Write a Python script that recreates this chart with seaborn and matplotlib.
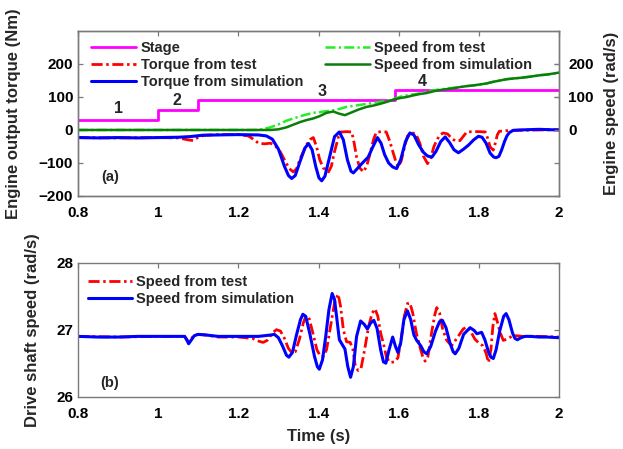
import matplotlib
matplotlib.use("Agg")
import matplotlib.pyplot as plt
import seaborn as sns

# ---------------- data ----------------
# (a) engine output torque (Nm) and engine speed (rad/s)
stage_t = [0.80, 1.00, 1.10, 1.59, 2.00]
stage_v = [30, 60, 90, 120, 120]
stage_labels = ["1", "2", "3", "4"]
stage_label_t = [0.902, 1.047, 1.409, 1.658]
stage_label_v = [66, 90, 117, 147]

torque_test_t = [0.80, 0.90, 1.00, 1.05, 1.075, 1.087, 1.10, 1.115, 1.15, 1.20, 1.225, 1.24,
                 1.25, 1.265, 1.28, 1.29, 1.305, 1.32, 1.33, 1.337, 1.345, 1.355, 1.37, 1.38,
                 1.387, 1.395, 1.403, 1.412, 1.425, 1.432, 1.44, 1.45, 1.457, 1.47, 1.483, 1.489,
                 1.495, 1.503, 1.512, 1.52, 1.529, 1.537, 1.544, 1.556, 1.569, 1.578, 1.587, 1.594,
                 1.599, 1.606, 1.615, 1.622, 1.632, 1.643, 1.653, 1.662, 1.672, 1.68, 1.688, 1.695,
                 1.703, 1.711, 1.722, 1.732, 1.741, 1.753, 1.762, 1.77, 1.785, 1.80, 1.816, 1.822,
                 1.828, 1.836, 1.841, 1.846, 1.851, 1.87, 1.90, 1.95, 2.00]
torque_test_v = [-23, -24, -23, -24, -30, -32, -22, -16, -14, -14, -18, -30,
                 -40, -42, -40, -45, -67, -102, -120, -127, -118, -85, -45, -28,
                 -23, -50, -90, -115, -127, -110, -65, -20, -6, -5, -6, -40,
                 -82, -115, -127, -110, -70, -30, -7, -5, -6, -35, -72, -100,
                 -112, -95, -50, -18, -8, -12, -41, -80, -102, -85, -50, -31,
                 -15, -9, -12, -25, -33, -32, -18, -6, -5, -5, -6, -25,
                 -51, -61, -40, -15, -4, -2, -1, 0, 1]

torque_sim_t = [0.80, 0.85, 0.90, 0.95, 1.00, 1.05, 1.08, 1.11, 1.15, 1.20, 1.25, 1.27,
                1.285, 1.30, 1.315, 1.325, 1.333, 1.342, 1.354, 1.366, 1.375, 1.384, 1.393,
                1.401, 1.408, 1.416, 1.428, 1.44, 1.452, 1.462, 1.472, 1.481, 1.487, 1.496,
                1.508, 1.524, 1.536, 1.547, 1.556, 1.565, 1.575, 1.585, 1.595, 1.605, 1.617,
                1.628, 1.638, 1.65, 1.662, 1.672, 1.683, 1.693, 1.705, 1.716, 1.727, 1.738,
                1.749, 1.762, 1.774, 1.787, 1.799, 1.808, 1.818, 1.828, 1.837, 1.843, 1.85,
                1.857, 1.864, 1.87, 1.876, 1.886, 1.90, 1.95, 2.00]
torque_sim_v = [-23, -24, -23, -24, -23, -22, -20, -16, -15, -14, -15, -18,
                -28, -58, -110, -138, -147, -138, -95, -55, -41, -60, -110,
                -145, -154, -140, -80, -20, -6, -30, -90, -125, -130, -118,
                -102, -82, -50, -23, -40, -75, -100, -112, -117, -90, -35,
                -9, -15, -45, -68, -79, -82, -65, -35, -21, -38, -60,
                -69, -58, -46, -30, -19, -22, -40, -70, -82, -84, -80,
                -60, -35, -18, -8, -1, 0, 2, 0]

speed_test_t = [0.80, 1.00, 1.20, 1.24, 1.26, 1.28, 1.30, 1.32, 1.337, 1.355, 1.37, 1.387,
                1.403, 1.42, 1.437, 1.453, 1.47, 1.487, 1.503, 1.52, 1.537, 1.553, 1.57, 1.59,
                1.605, 1.62, 1.637, 1.653, 1.67, 1.686, 1.703, 1.72, 1.736, 1.753, 1.77, 1.786,
                1.803, 1.819, 1.836, 1.853, 1.87, 1.886, 1.903, 1.92, 1.936, 1.953, 1.97, 1.986,
                2.00]
speed_test_v = [0, 0, 0, 0, 2, 8, 17, 28, 35, 42, 47, 52,
                54, 57, 60, 64, 70, 73, 76, 79, 82, 85, 88, 95,
                101, 105, 108, 111, 116, 120, 123, 125, 128, 130, 133, 135,
                138, 141, 146, 150, 154, 156, 158, 161, 163, 166, 168, 171,
                173]

speed_sim_t = [0.80, 1.00, 1.20, 1.28, 1.30, 1.32, 1.337, 1.354, 1.37, 1.387, 1.403, 1.42,
               1.437, 1.45, 1.466, 1.48, 1.50, 1.52, 1.537, 1.553, 1.57, 1.59, 1.605, 1.62,
               1.637, 1.653, 1.67, 1.686, 1.703, 1.72, 1.736, 1.753, 1.77, 1.786, 1.803, 1.819,
               1.836, 1.853, 1.87, 1.886, 1.903, 1.92, 1.936, 1.953, 1.97, 1.986, 2.00]
speed_sim_v = [0, 0, 0, 0, 2, 8, 16, 24, 30, 35, 42, 52,
               56, 50, 45, 52, 62, 70, 74, 79, 85, 93, 97, 100,
               105, 109, 112, 117, 121, 124, 126, 130, 133, 135, 138, 141,
               146, 150, 154, 156, 158, 160, 163, 166, 168, 171, 174]

# (b) drive shaft speed (rad/s)
shaft_test_t = [0.80, 0.90, 1.00, 1.066, 1.072, 1.076, 1.082, 1.09, 1.10, 1.12, 1.15, 1.20,
                1.235, 1.25, 1.262, 1.272, 1.285, 1.295, 1.305, 1.315, 1.325, 1.333, 1.342,
                1.352, 1.362, 1.369, 1.376, 1.386, 1.396, 1.405, 1.412, 1.42, 1.43, 1.44, 1.449,
                1.455, 1.462, 1.47, 1.479, 1.486, 1.492, 1.499, 1.506, 1.515, 1.525, 1.534,
                1.541, 1.548, 1.555, 1.562, 1.57, 1.578, 1.59, 1.598, 1.606, 1.614, 1.622,
                1.628, 1.635, 1.644, 1.653, 1.66, 1.666, 1.673, 1.682, 1.69, 1.695, 1.702,
                1.71, 1.72, 1.732, 1.745, 1.761, 1.77, 1.78, 1.79, 1.80, 1.81, 1.818, 1.824,
                1.83, 1.835, 1.84, 1.846, 1.853, 1.861, 1.87, 1.882, 1.894, 1.91, 1.95, 2.00]
shaft_test_v = [26.90, 26.89, 26.90, 26.90, 26.85, 26.81, 26.86, 26.92, 26.93, 26.92, 26.89, 26.89,
                26.87, 26.83, 26.81, 26.84, 26.95, 27.00, 26.98, 26.87, 26.72, 26.66, 26.67,
                26.85, 27.10, 27.21, 27.18, 26.95, 26.70, 26.60, 26.60, 26.70, 27.05, 27.40, 27.53,
                27.35, 27.00, 26.82, 26.81, 26.70, 26.45, 26.39, 26.42, 26.70, 27.05, 27.25,
                27.31, 27.20, 26.95, 26.79, 26.58, 26.51, 26.52, 26.58, 26.85, 27.20, 27.39,
                27.40, 27.25, 26.95, 26.74, 26.60, 26.53, 26.60, 26.95, 27.22, 27.33, 27.25,
                27.00, 26.84, 26.76, 26.87, 27.01, 27.04, 26.97, 26.86, 26.80, 26.76, 26.65, 26.51,
                26.70, 27.05, 27.24, 27.12, 26.96, 26.84, 26.86, 26.90, 26.91, 26.90, 26.90, 26.89]

shaft_sim_t = [0.80, 0.85, 0.90, 0.95, 1.00, 1.05, 1.066, 1.072, 1.076, 1.082, 1.09, 1.10,
               1.12, 1.15, 1.20, 1.25, 1.28, 1.29, 1.30, 1.31, 1.32, 1.326, 1.335, 1.345,
               1.355, 1.361, 1.368, 1.378, 1.39, 1.397, 1.402, 1.41, 1.418, 1.426, 1.434, 1.44,
               1.447, 1.452, 1.458, 1.466, 1.473, 1.48, 1.487, 1.495, 1.505, 1.514, 1.522,
               1.53, 1.538, 1.546, 1.555, 1.562, 1.568, 1.576, 1.585, 1.592, 1.598, 1.605,
               1.613, 1.622, 1.63, 1.638, 1.645, 1.655, 1.663, 1.67, 1.68, 1.692, 1.702,
               1.709, 1.718, 1.728, 1.736, 1.741, 1.75, 1.762, 1.778, 1.788, 1.795, 1.801,
               1.807, 1.815, 1.824, 1.83, 1.836, 1.843, 1.852, 1.862, 1.868, 1.875, 1.884,
               1.89, 1.896, 1.905, 1.915, 1.93, 1.95, 1.97, 2.00]
shaft_sim_v = [26.90, 26.89, 26.89, 26.90, 26.90, 26.90, 26.90, 26.84, 26.79, 26.84, 26.91, 26.93,
               26.92, 26.90, 26.90, 26.90, 26.92, 26.93, 26.88, 26.76, 26.62, 26.59, 26.66, 26.92,
               27.15, 27.23, 27.20, 26.95, 26.60, 26.45, 26.41, 26.55, 26.90, 27.30, 27.54, 27.45,
               27.10, 26.85, 26.79, 26.71, 26.45, 26.29, 26.45, 26.90, 27.13, 27.08, 27.01,
               27.10, 27.14, 27.02, 26.70, 26.52, 26.50, 26.70, 26.89, 26.75, 26.66, 26.80,
               27.15, 27.28, 27.15, 26.92, 26.84, 26.76, 26.67, 26.64, 26.75, 26.98, 27.12,
               27.14, 27.03, 26.80, 26.67, 26.64, 26.72, 26.93, 27.03, 26.99, 26.94, 26.95,
               26.96, 26.85, 26.67, 26.59, 26.57, 26.70, 26.98, 27.20, 27.24, 27.15, 26.95,
               26.87, 26.85, 26.88, 26.90, 26.90, 26.89, 26.89, 26.88]

# ---------------- style ----------------
sns.set_theme(style="white")
plt.rcParams["font.family"] = ["Liberation Sans", "DejaVu Sans"]
plt.rcParams["font.weight"] = "bold"
plt.rcParams["axes.labelweight"] = "bold"

FRAME = "#7a7a7a"
RED = "#ff0000"
BLUE = "#0000ff"
MAGENTA = "#ff00ff"
LIGHT_GREEN = "#22ee22"
DARK_GREEN = "#0a7d0a"
DASHDOT = (4.0, 1.3, 0.9, 1.3)
TICK_FS = 11

fig = plt.figure(figsize=(6.23, 4.49), dpi=100)
ax_a = fig.add_axes([0.1252, 0.5635, 0.7721, 0.3675])
ax_b = fig.add_axes([0.1252, 0.1165, 0.7721, 0.2985])


def style_axes(ax, right=True):
    for sp in ax.spines.values():
        sp.set_color(FRAME)
        sp.set_linewidth(1.0)
        sp.set_visible(True)
    ax.tick_params(axis="both", which="both", direction="in", length=3.5, width=0.9,
                   color=FRAME, top=True, right=right, labelsize=TICK_FS,
                   labelcolor="black")
    ax.tick_params(axis="x", pad=7.5)
    ax.tick_params(axis="y", pad=3.5)
    for lbl in ax.get_xticklabels() + ax.get_yticklabels():
        lbl.set_fontweight("bold")


# ---------------- (a) ----------------
ax_s = ax_a.twinx()

sns.lineplot(x=stage_t, y=stage_v, ax=ax_a, color=MAGENTA, lw=2.0, estimator=None,
             drawstyle="steps-post", label="Stage", legend=False)
ln_tt = sns.lineplot(x=torque_test_t, y=torque_test_v, ax=ax_a, color=RED, lw=2.0,
                     estimator=None, label="Torque from test", legend=False).get_lines()[-1]
ln_tt.set_dashes(DASHDOT)
sns.lineplot(x=torque_sim_t, y=torque_sim_v, ax=ax_a, color=BLUE, lw=2.2, estimator=None,
             label="Torque from simulation", legend=False)

ln_st = sns.lineplot(x=speed_test_t, y=speed_test_v, ax=ax_s, color=LIGHT_GREEN, lw=1.8,
                     estimator=None, label="Speed from test", legend=False).get_lines()[-1]
ln_st.set_dashes(DASHDOT)
sns.lineplot(x=speed_sim_t, y=speed_sim_v, ax=ax_s, color=DARK_GREEN, lw=1.8,
             estimator=None, label="Speed from simulation", legend=False)

ax_a.set_xlim(0.8, 2.0)
ax_a.set_ylim(-200, 300)
ax_a.set_yticks([-200, -100, 0, 100, 200])
ax_a.set_xticks([0.8, 1.0, 1.2, 1.4, 1.6, 1.8, 2.0])
ax_a.set_xticklabels(["0.8", "1", "1.2", "1.4", "1.6", "1.8", "2"])
ax_s.set_ylim(-200, 300)
ax_s.set_yticks([0, 100, 200])
style_axes(ax_a)
style_axes(ax_s)
ax_s.tick_params(axis="y", pad=6.5)

ax_a.set_xlabel("")
ax_a.set_ylabel("Engine output torque (Nm)", fontsize=12, fontweight="bold")
ax_a.yaxis.set_label_coords(-0.118, 0.5)
ax_s.set_ylabel("Engine speed (rad/s)", fontsize=12, fontweight="bold")
ax_s.yaxis.set_label_coords(1.094, 0.5)

for s, tx, ty in zip(stage_labels, stage_label_t, stage_label_v):
    ax_a.text(tx, ty, s, ha="center", va="center", fontsize=11.5, fontweight="bold")
ax_a.text(0.880, -142, "(a)", ha="center", va="center", fontsize=10.5, fontweight="bold")

handles = ax_a.get_lines() + ax_s.get_lines()
ax_s.legend(handles=handles, labels=[h.get_label() for h in handles], ncol=2,
            loc="upper left", bbox_to_anchor=(0.027, 0.94), frameon=False,
            fontsize=10.5, handlelength=3.1, handletextpad=0.3, labelspacing=0.2,
            columnspacing=1.5, borderaxespad=0, borderpad=0)

# ---------------- (b) ----------------
ln_bt = sns.lineplot(x=shaft_test_t, y=shaft_test_v, ax=ax_b, color=RED, lw=2.0,
                     estimator=None, label="Speed from test", legend=False).get_lines()[-1]
ln_bt.set_dashes(DASHDOT)
sns.lineplot(x=shaft_sim_t, y=shaft_sim_v, ax=ax_b, color=BLUE, lw=2.2, estimator=None,
             label="Speed from simulation", legend=False)

ax_b.set_xlim(0.8, 2.0)
ax_b.set_ylim(26, 28)
ax_b.set_yticks([26, 27, 28])
ax_b.set_xticks([0.8, 1.0, 1.2, 1.4, 1.6, 1.8, 2.0])
ax_b.set_xticklabels(["0.8", "1", "1.2", "1.4", "1.6", "1.8", "2"])
style_axes(ax_b)
ax_b.set_xlabel("Time (s)", fontsize=12, fontweight="bold", labelpad=6)
ax_b.set_ylabel("Drive shaft speed (rad/s)", fontsize=12, fontweight="bold")
ax_b.yaxis.set_label_coords(-0.078, 0.5)
ax_b.text(0.880, 26.21, "(b)", ha="center", va="center", fontsize=10.5, fontweight="bold")

hb = ax_b.get_lines()
ax_b.legend(handles=hb, labels=[h.get_label() for h in hb], loc="upper left",
            bbox_to_anchor=(0.021, 0.91), frameon=False, fontsize=10.5, handlelength=3.0,
            handletextpad=0.3, labelspacing=0.2, borderaxespad=0, borderpad=0)

fig.savefig("out.png", dpi=100)
